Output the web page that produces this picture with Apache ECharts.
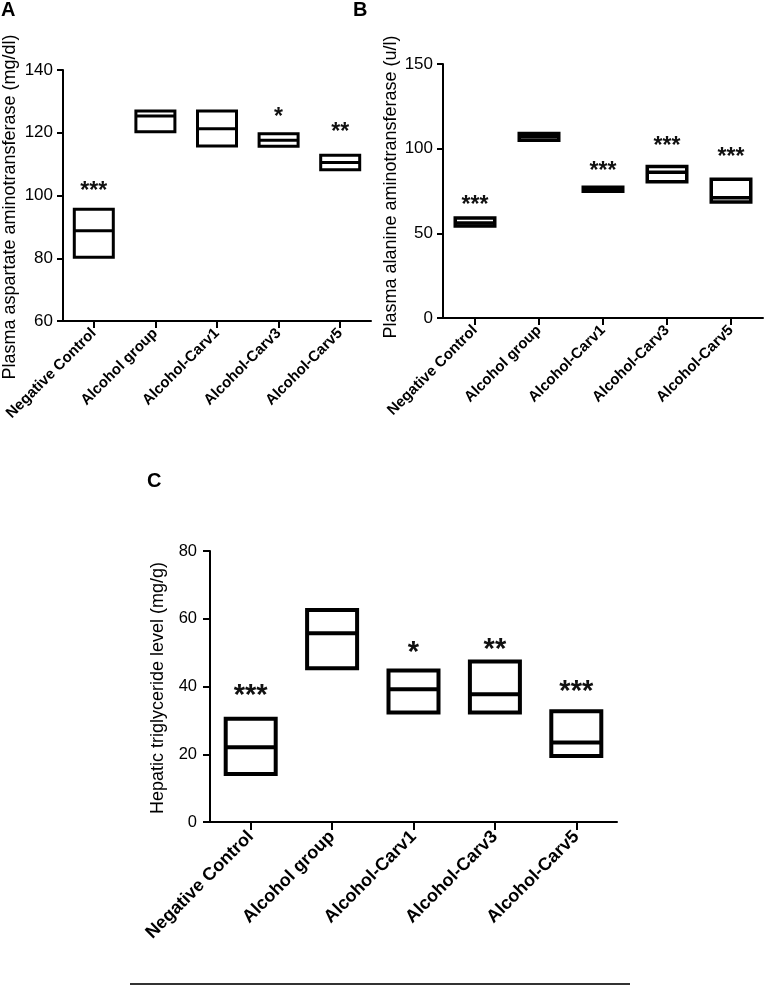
<!DOCTYPE html>
<html>
<head>
<meta charset="utf-8">
<script src="https://cdn.jsdelivr.net/npm/echarts@6/dist/echarts.min.js"></script>
<style>
html,body{margin:0;padding:0;background:#fff;}
#c{width:767px;height:986px;}
</style>
</head>
<body>
<div id="c"></div>
<script>
// ---- data ----
var categories = ['Negative Control', 'Alcohol group', 'Alcohol-Carv1', 'Alcohol-Carv3', 'Alcohol-Carv5'];

// Panel A: Plasma aspartate aminotransferase (mg/dl)
var aMin  = [80.3, 120.3, 115.8, 115.7, 108.2];
var aMax  = [95.6, 126.9, 126.9, 119.7, 112.8];
var aMean = [88.8, 125.3, 121.3, 117.6, 110.5];
var aStars = ['***', '', '', '*', '**'];
var aStarY = [101.3, null, null, 124.7, 119.9];
var aTicks = [60, 140, 20];

// Panel B: Plasma alanine aminotransferase (u/l)
var bMin  = [54.3, 105.0, 74.8, 80.5, 68.5];
var bMax  = [59.0, 109.0, 77.2, 89.5, 82.0];
var bMean = [56.1, 107.0, 76.0, 86.0, 71.0];
var bStars = ['***', '', '***', '***', '***'];
var bStarY = [66.5, null, 86.2, 101.0, 94.5];
var bTicks = [0, 150, 50];

// Panel C: Hepatic triglyceride level (mg/g)
var cMin  = [14.2, 45.4, 32.3, 32.3, 19.5];
var cMax  = [30.5, 62.6, 44.7, 47.4, 32.7];
var cMean = [22.1, 55.7, 39.2, 37.7, 23.5];
var cStars = ['***', '', '*', '**', '***'];
var cStarY = [37.2, null, 50.0, 50.8, 38.4];
var cTicks = [0, 80, 20];

var FONT = '"Liberation Sans", Arial, sans-serif';

function boxData(mins, maxs, means) {
  return categories.map(function (c, i) { return [i, mins[i], maxs[i], means[i]]; });
}
function starData(texts, ys) {
  var out = [];
  texts.forEach(function (t, i) { if (t) out.push([i, ys[i]]); });
  return out;
}
function starTexts(texts) {
  return texts.filter(function (t) { return !!t; });
}
function boxRender(bw, lw) {
  return function (params, api) {
    var lo = api.coord([api.value(0), api.value(1)]);
    var hi = api.coord([api.value(0), api.value(2)]);
    var mid = api.coord([api.value(0), api.value(3)]);
    var half = (bw - lw) / 2;
    var x = lo[0];
    return {
      type: 'group',
      children: [
        { type: 'rect', shape: { x: x - half, y: hi[1], width: half * 2, height: lo[1] - hi[1] },
          style: { fill: '#fff', stroke: '#000', lineWidth: lw } },
        { type: 'line', shape: { x1: x - half, y1: mid[1], x2: x + half, y2: mid[1] },
          style: { stroke: '#000', lineWidth: lw } }
      ]
    };
  };
}
function starRender(texts, fs) {
  var list = starTexts(texts);
  return function (params, api) {
    var p = api.coord([api.value(0), api.value(1)]);
    return {
      type: 'text', x: p[0], y: p[1],
      style: { text: list[params.dataIndex], fontSize: fs, fontWeight: 'bold',
               fontFamily: FONT, align: 'center', verticalAlign: 'middle', fill: '#111' }
    };
  };
}
function xAx(gi, fs, tickLen, margin) {
  return {
    type: 'category', gridIndex: gi, data: categories, boundaryGap: true,
    axisLine: { show: true, lineStyle: { color: '#000', width: 2 } },
    axisTick: { show: true, alignWithLabel: true, length: tickLen, lineStyle: { color: '#000', width: 2 } },
    axisLabel: { rotate: 45, fontSize: fs, fontWeight: 'bold', fontFamily: FONT, color: '#000', margin: margin, interval: 0 },
    splitLine: { show: false }
  };
}
function yAx(gi, t, fs, tickLen, margin) {
  return {
    type: 'value', gridIndex: gi, min: t[0], max: t[1], interval: t[2],
    axisLine: { show: true, lineStyle: { color: '#000', width: 2 } },
    axisTick: { show: true, length: tickLen, lineStyle: { color: '#000', width: 2 } },
    axisLabel: { fontSize: fs, fontFamily: FONT, color: '#000', margin: margin },
    splitLine: { show: false }
  };
}

var chart = echarts.init(document.getElementById('c'), null, { renderer: 'canvas' });
var option = {
  animation: false,
  backgroundColor: '#fff',
  grid: [
    { left: 63, top: 70, width: 308, height: 251 },
    { left: 443, top: 64, width: 320, height: 254 },
    { left: 210, top: 551, width: 407, height: 271 }
  ],
  xAxis: [ xAx(0, 15, 7, 10), xAx(1, 15, 7, 10), xAx(2, 18, 8, 12) ],
  yAxis: [ yAx(0, aTicks, 17, 6, 10), yAx(1, bTicks, 17, 6, 10), yAx(2, cTicks, 16.5, 7, 13) ],
  series: [
    { type: 'custom', xAxisIndex: 0, yAxisIndex: 0, renderItem: boxRender(42, 3), data: boxData(aMin, aMax, aMean), silent: true },
    { type: 'custom', xAxisIndex: 1, yAxisIndex: 1, renderItem: boxRender(43, 3.5), data: boxData(bMin, bMax, bMean), silent: true },
    { type: 'custom', xAxisIndex: 2, yAxisIndex: 2, renderItem: boxRender(54, 4), data: boxData(cMin, cMax, cMean), silent: true },
    { type: 'custom', xAxisIndex: 0, yAxisIndex: 0, renderItem: starRender(aStars, 23), data: starData(aStars, aStarY), silent: true },
    { type: 'custom', xAxisIndex: 1, yAxisIndex: 1, renderItem: starRender(bStars, 23), data: starData(bStars, bStarY), silent: true },
    { type: 'custom', xAxisIndex: 2, yAxisIndex: 2, renderItem: starRender(cStars, 29), data: starData(cStars, cStarY), silent: true }
  ],
  graphic: [
    { type: 'text', x: 1, y: 10, style: { text: 'A', fontSize: 20, fontWeight: 'bold', fontFamily: FONT, fill: '#000', verticalAlign: 'middle' } },
    { type: 'text', x: 353, y: 10, style: { text: 'B', fontSize: 20, fontWeight: 'bold', fontFamily: FONT, fill: '#000', verticalAlign: 'middle' } },
    { type: 'text', x: 147, y: 481, style: { text: 'C', fontSize: 20, fontWeight: 'bold', fontFamily: FONT, fill: '#000', verticalAlign: 'middle' } },
    { type: 'text', x: 10, y: 207, rotation: Math.PI / 2,
      style: { text: 'Plasma aspartate aminotransferase (mg/dl)', fontSize: 18, fontFamily: FONT, fill: '#000', align: 'center', verticalAlign: 'middle' } },
    { type: 'text', x: 391, y: 187, rotation: Math.PI / 2,
      style: { text: 'Plasma alanine aminotransferase (u/l)', fontSize: 18, fontFamily: FONT, fill: '#000', align: 'center', verticalAlign: 'middle' } },
    { type: 'text', x: 158, y: 688, rotation: Math.PI / 2,
      style: { text: 'Hepatic triglyceride level (mg/g)', fontSize: 18, fontFamily: FONT, fill: '#000', align: 'center', verticalAlign: 'middle' } },
    { type: 'line', shape: { x1: 130, y1: 984, x2: 630, y2: 984 }, style: { stroke: '#333', lineWidth: 2 } }
  ]
};
chart.setOption(option);
</script>
</body>
</html>
